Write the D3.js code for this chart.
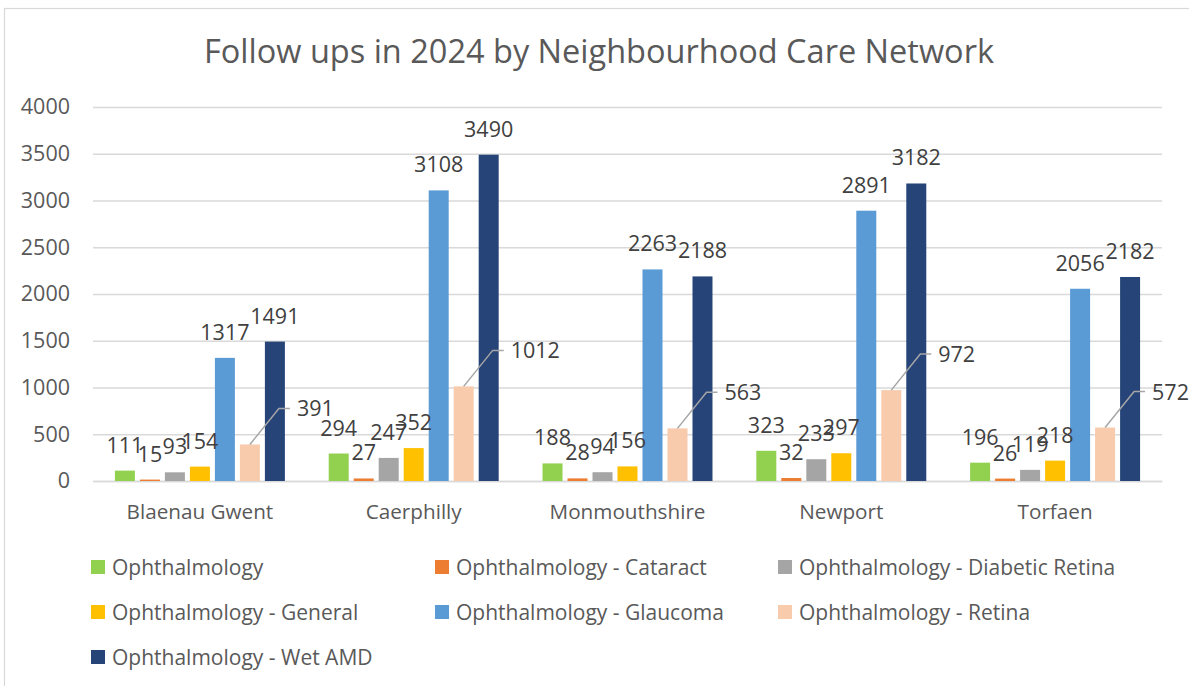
<!DOCTYPE html>
<html>
<head>
<meta charset="utf-8">
<script src="https://cdn.jsdelivr.net/npm/d3@7/dist/d3.min.js"></script>
<style>
  html, body { margin: 0; padding: 0; background: #fff; }
  svg { display: block; font-family: "Open Sans", Lato, sans-serif; }
</style>
</head>
<body>
<svg id="chart" width="1189" height="686"></svg>
<script>
// Follow ups in 2024, per Neighbourhood Care Network and sub-specialty
const categories = ["Blaenau Gwent", "Caerphilly", "Monmouthshire", "Newport", "Torfaen"];
const seriesNames = [
  "Ophthalmology",
  "Ophthalmology - Cataract",
  "Ophthalmology - Diabetic Retina",
  "Ophthalmology - General",
  "Ophthalmology - Glaucoma",
  "Ophthalmology - Retina",
  "Ophthalmology - Wet AMD"
];
const seriesColors = ["#92D050", "#ED7D31", "#A5A5A5", "#FFC000", "#5B9BD5", "#F8CBAD", "#264478"];

const ophthalmology  = [111, 294, 188, 323, 196];
const cataract       = [15, 27, 28, 32, 26];
const diabeticRetina = [93, 247, 94, 233, 119];
const general        = [154, 352, 156, 297, 218];
const glaucoma       = [1317, 3108, 2263, 2891, 2056];
const retina         = [391, 1012, 563, 972, 572];
const wetAMD         = [1491, 3490, 2188, 3182, 2182];
const seriesValues = [ophthalmology, cataract, diabeticRetina, general, glaucoma, retina, wetAMD];

const yTicks = [0, 500, 1000, 1500, 2000, 2500, 3000, 3500, 4000];
const titleText = "Follow ups in 2024 by Neighbourhood Care Network";

const FONT = "'Open Sans', Lato, sans-serif";
const svg = d3.select("#chart");
const plot = { left: 93, right: 1162, top: 107, bottom: 481 };

// outer frame of the chart area
svg.append("rect")
  .attr("x", 4.5).attr("y", 8.5)
  .attr("width", 1200).attr("height", 700)
  .attr("fill", "none").attr("stroke", "#D9D9D9").attr("stroke-width", 1.2);

svg.append("text")
  .attr("x", 599).attr("y", 63)
  .attr("text-anchor", "middle")
  .attr("fill", "#595959")
  .attr("font-size", 32.5)
  .text(titleText);

const y = d3.scaleLinear().domain([0, 4000]).range([plot.bottom, plot.top]);

const x0 = d3.scaleBand()
  .domain(categories)
  .range([plot.left, plot.right])
  .paddingInner(0.205)
  .paddingOuter(0.1025);

const x1 = d3.scaleBand()
  .domain(d3.range(seriesNames.length))
  .range([0, x0.bandwidth()])
  .paddingInner(0.2)
  .paddingOuter(0);

// horizontal gridlines
const yAxis = d3.axisLeft(y)
  .tickValues(yTicks)
  .tickSize(-(plot.right - plot.left))
  .tickPadding(23)
  .tickFormat(d3.format("d"));

const gy = svg.append("g")
  .attr("transform", `translate(${plot.left},0)`)
  .call(yAxis);
gy.select(".domain").remove();
gy.selectAll(".tick line").attr("stroke", "#D9D9D9").attr("stroke-width", 1.5);
gy.selectAll(".tick text")
  .attr("fill", "#595959")
  .attr("font-size", 21.5)
  .attr("font-family", FONT);

// category axis
const xAxis = d3.axisBottom(x0).tickSize(0).tickPadding(23);
const gx = svg.append("g")
  .attr("transform", `translate(0,${plot.bottom})`)
  .call(xAxis);
gx.select(".domain").attr("stroke", "#D9D9D9").attr("stroke-width", 1.5);
gx.selectAll(".tick text")
  .attr("fill", "#595959")
  .attr("font-size", 20.7)
  .attr("font-family", FONT);

// bars
const points = [];
seriesValues.forEach((vals, si) => {
  vals.forEach((v, ci) => {
    points.push({ si, ci, v, cat: categories[ci] });
  });
});

const groups = svg.append("g").selectAll("g")
  .data(categories)
  .join("g")
  .attr("transform", d => `translate(${x0(d)},0)`);

groups.selectAll("rect")
  .data(c => points.filter(p => p.cat === c))
  .join("rect")
  .attr("x", d => x1(d.si))
  .attr("width", x1.bandwidth())
  .attr("y", d => y(d.v))
  .attr("height", d => y(0) - y(d.v))
  .attr("fill", d => seriesColors[d.si]);

// value labels; the Retina series uses leader lines
const labels = svg.append("g").attr("font-size", 21.5).attr("fill", "#404040");
const retinaIndex = 5;
points.forEach(p => {
  const cx = x0(p.cat) + x1(p.si) + x1.bandwidth() / 2;
  const top = y(p.v);
  if (p.si === retinaIndex) {
    const ex = cx + 29, ey = top - 36;
    labels.append("path")
      .attr("d", `M${cx},${top}L${ex},${ey}H${ex + 11}`)
      .attr("fill", "none")
      .attr("stroke", "#A6A6A6")
      .attr("stroke-width", 1.5);
    labels.append("text")
      .attr("x", ex + 18).attr("y", ey + 8)
      .text(p.v);
  } else {
    labels.append("text")
      .attr("x", cx).attr("y", top - 18)
      .attr("text-anchor", "middle")
      .text(p.v);
  }
});

// legend, three columns
const legendCols = [91, 435, 778];
const legendRows = [567, 612, 657];
const legend = svg.append("g").selectAll("g")
  .data(seriesNames)
  .join("g")
  .attr("transform", (d, i) => `translate(${legendCols[i % 3]},${legendRows[Math.floor(i / 3)]})`);
legend.append("rect")
  .attr("x", 0).attr("y", -7)
  .attr("width", 14).attr("height", 14)
  .attr("fill", (d, i) => seriesColors[i]);
legend.append("text")
  .attr("x", 21).attr("y", 7.5)
  .attr("fill", "#595959")
  .attr("font-size", 21)
  .text(d => d);
</script>
</body>
</html>
